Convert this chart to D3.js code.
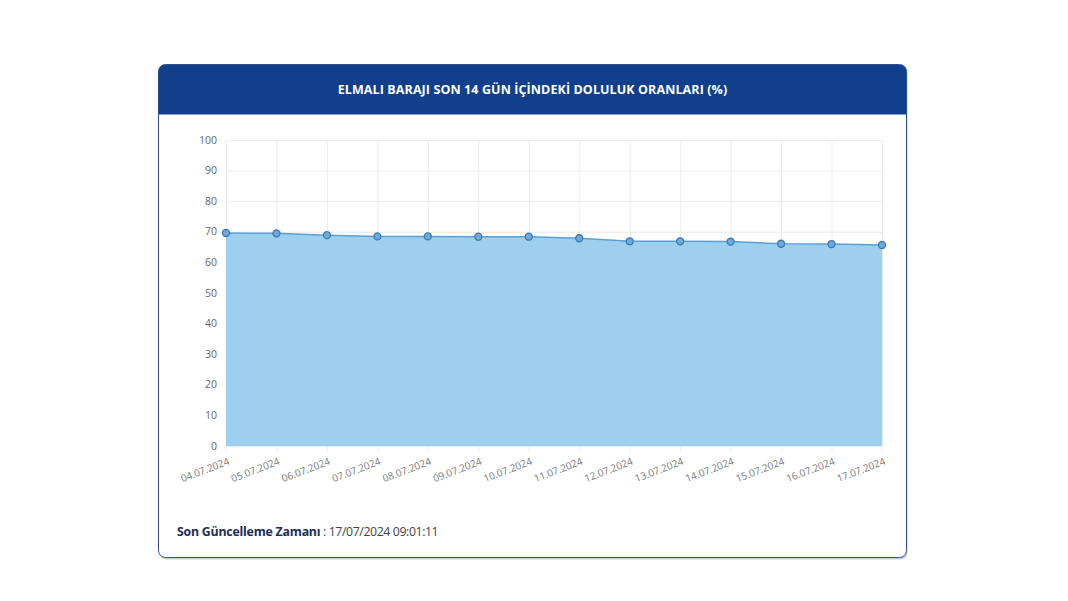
<!DOCTYPE html>
<html>
<head>
<meta charset="utf-8">
<script src="https://cdn.jsdelivr.net/npm/d3@7"></script>
<style>
  body { margin: 0; background: #fff; }
  svg { display: block; }
</style>
</head>
<body>
<svg id="viz"></svg>
<script>
// data
const dates = ["04.07.2024", "05.07.2024", "06.07.2024", "07.07.2024", "08.07.2024", "09.07.2024", "10.07.2024",
  "11.07.2024", "12.07.2024", "13.07.2024", "14.07.2024", "15.07.2024", "16.07.2024", "17.07.2024"];
const doluluk = [69.6, 69.5, 68.9, 68.5, 68.5, 68.4, 68.4, 67.9, 66.9, 66.9, 66.8, 66.1, 66.0, 65.7];
const yTicks = [0, 10, 20, 30, 40, 50, 60, 70, 80, 90, 100];
const title = "ELMALI BARAJI SON 14 GÜN İÇİNDEKİ DOLULUK ORANLARI (%)";
const updateLabel = "Son Güncelleme Zamanı";
const updateTime = "17/07/2024 09:01:11";

let svg = d3.select("#viz").attr("width", 1068).attr("height", 601);
const font = "'Open Sans', sans-serif";

// card
let card = { x: 158.5, y: 64.5, w: 748, h: 493, r: 7 };
let defs = svg.append("defs");
defs.append("clipPath").attr("id", "cardClip")
  .append("rect").attr("x", card.x).attr("y", card.y)
  .attr("width", card.w).attr("height", card.h).attr("rx", card.r);

svg.append("rect")
  .attr("x", card.x + 1).attr("y", card.y + 2)
  .attr("width", card.w).attr("height", card.h).attr("rx", card.r)
  .attr("fill", "#c9ced8");
svg.append("rect")
  .attr("x", card.x).attr("y", card.y)
  .attr("width", card.w).attr("height", card.h).attr("rx", card.r)
  .attr("fill", "#fff");

svg.append("rect")
  .attr("clip-path", "url(#cardClip)")
  .attr("x", card.x).attr("y", card.y)
  .attr("width", card.w).attr("height", 50)
  .attr("fill", "#123f8c");

svg.append("rect")
  .attr("x", card.x).attr("y", card.y)
  .attr("width", card.w).attr("height", card.h).attr("rx", card.r)
  .attr("fill", "none").attr("stroke", "#2b4f8f").attr("stroke-width", 1);

svg.append("text")
  .attr("x", card.x + card.w / 2).attr("y", 94)
  .attr("text-anchor", "middle")
  .attr("font-family", font).attr("font-weight", 700)
  .attr("font-size", 12.5).attr("fill", "#fff")
  .attr("letter-spacing", "0.1")
  .text(title);

// chart
let margin = { left: 226, right: 882, top: 140, bottom: 446 };
let x = d3.scalePoint().domain(dates).range([margin.left, margin.right]);
let y = d3.scaleLinear().domain([0, 100]).range([margin.bottom, margin.top]);

let grid = svg.append("g");
grid.selectAll("line.h").data(yTicks).enter().append("line")
  .attr("x1", margin.left).attr("x2", margin.right)
  .attr("y1", d => y(d) + 0.5).attr("y2", d => y(d) + 0.5)
  .attr("stroke", "#ececec");
grid.selectAll("line.v").data(dates).enter().append("line")
  .attr("x1", d => x(d) + 0.5).attr("x2", d => x(d) + 0.5)
  .attr("y1", margin.top).attr("y2", margin.bottom + 6)
  .attr("stroke", "#ececec");

let area = d3.area()
  .x((d, i) => x(dates[i]))
  .y0(y(0)).y1(d => y(d));
let line = d3.line()
  .x((d, i) => x(dates[i]))
  .y(d => y(d));

svg.append("path").datum(doluluk)
  .attr("d", area)
  .attr("fill", "#9dd0ef");
svg.append("path").datum(doluluk)
  .attr("d", line)
  .attr("fill", "none").attr("stroke", "#5d9fd3").attr("stroke-width", 1.5);

svg.selectAll("circle.pt").data(doluluk).enter().append("circle")
  .attr("cx", (d, i) => x(dates[i]))
  .attr("cy", d => y(d))
  .attr("r", 3.5)
  .attr("fill", "#6fa9d9").attr("stroke", "#3a78b5").attr("stroke-width", 1.3);

// y axis labels
svg.selectAll("text.y").data(yTicks).enter().append("text")
  .attr("x", 217).attr("y", d => y(d) + 3.5)
  .attr("text-anchor", "end")
  .attr("font-family", font).attr("font-size", 10.5).attr("fill", "#666")
  .text(d => d);

// x axis labels
svg.selectAll("text.x").data(dates).enter().append("text")
  .attr("text-anchor", "end")
  .attr("font-family", font).attr("font-size", 10).attr("fill", "#777")
  .attr("transform", d => "translate(" + (x(d) + 4) + "," + 464 + ")rotate(-21)")
  .text(d => d);

// footer
let foot = svg.append("text")
  .attr("x", 177).attr("y", 536)
  .attr("font-family", font).attr("font-size", 12.3).attr("fill", "#1d2d55");
foot.append("tspan").attr("font-weight", 700).attr("letter-spacing", "-0.2").text(updateLabel);
foot.append("tspan").attr("fill", "#444").attr("letter-spacing", "-0.4").text(" : " + updateTime);
</script>
</body>
</html>
